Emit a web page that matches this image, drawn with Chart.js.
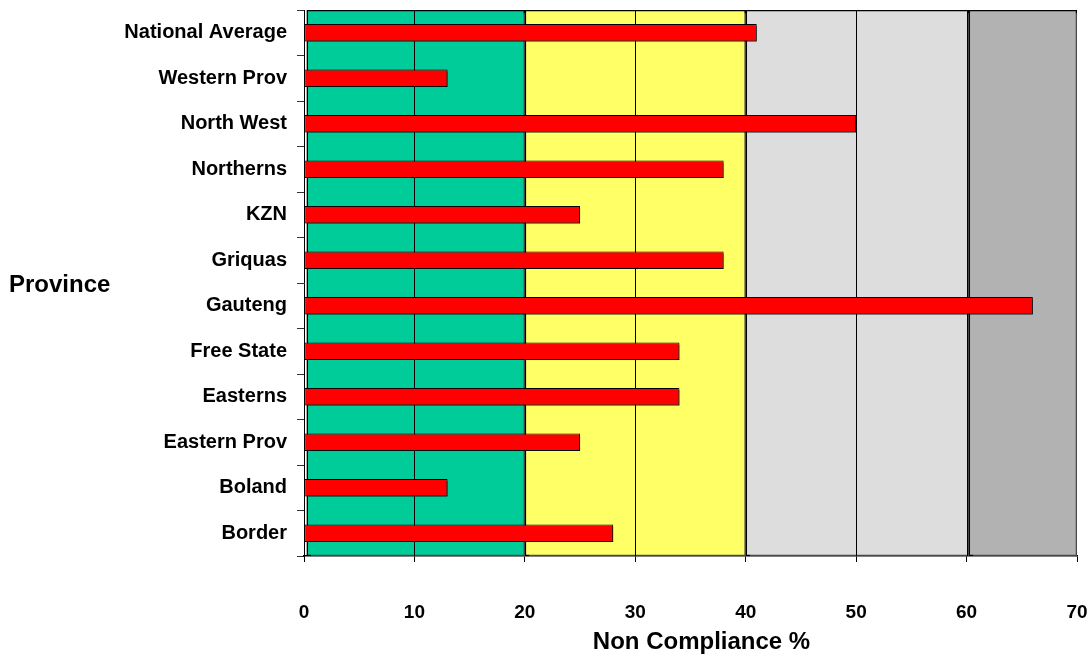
<!DOCTYPE html>
<html>
<head>
<meta charset="utf-8">
<script src="https://cdn.jsdelivr.net/npm/chart.js@4/dist/chart.umd.min.js"></script>
<style>
  html, body { margin: 0; padding: 0; background: #ffffff; }
  #wrap { width: 1090px; height: 656px; position: relative; }
</style>
</head>
<body>
<div id="wrap"><canvas id="c" width="1090" height="656"></canvas></div>
<script>
// Provinces, listed top to bottom
const provinces = [
  'National Average', 'Western Prov', 'North West', 'Northerns', 'KZN',
  'Griquas', 'Gauteng', 'Free State', 'Easterns', 'Eastern Prov', 'Boland', 'Border'
];
// Non compliance per province, %
const nonCompliance = [41, 13, 50, 38, 25, 38, 66, 34, 34, 25, 13, 28];
// Rating bands behind the bars: start/end of each band, %
const bandStarts = [0.25, 20, 40, 60.2];
const bandEnds   = [20, 40, 60.2, 70];
const bandColors = ['#00CC99', '#FFFF66', '#DDDDDD', '#B2B2B2'];
// Axis range and tick step, %
const xMin = 0, xMax = 70, xStep = 10;
// Axis titles
const xTitle = 'Non Compliance %';
const yTitle = 'Province';

const FONT = '"Liberation Sans", Arial, sans-serif';

const bandDatasets = bandStarts.map((s, i) => ({
  label: 'band' + i,
  data: [[s, bandEnds[i]]],
  yAxisID: 'y2',
  backgroundColor: bandColors[i],
  borderColor: '#000000',
  borderWidth: 1.6,
  borderSkipped: false,
  grouped: false,
  barPercentage: 1,
  categoryPercentage: 1,
  order: 10
}));

const redDataset = {
  label: xTitle,
  data: nonCompliance,
  yAxisID: 'y',
  backgroundColor: '#FF0000',
  borderColor: '#000000',
  borderWidth: 1,
  borderSkipped: false,
  grouped: false,
  barPercentage: 0.385,
  categoryPercentage: 1,
  order: 0
};

// Vertical grid lines sit between the bands and the red bars; bars cast a drop shadow
const layeringPlugin = {
  id: 'layering',
  beforeDatasetDraw(chart, args) {
    const ctx = chart.ctx;
    const area = chart.chartArea;
    ctx.save();
    if (args.meta.yAxisID === 'y') {
      const xs = chart.scales.x;
      ctx.save();
      ctx.strokeStyle = '#000000';
      ctx.lineWidth = 1;
      xs.ticks.forEach(t => {
        if (t.value <= xMin || t.value >= xMax) return;
        const px = Math.round(xs.getPixelForValue(t.value)) + 0.5;
        ctx.beginPath();
        ctx.moveTo(px, area.top);
        ctx.lineTo(px, area.bottom);
        ctx.stroke();
      });
      ctx.restore();
      ctx.shadowColor = 'rgba(0,0,0,0.55)';
      ctx.shadowOffsetX = 2;
      ctx.shadowOffsetY = 2;
      ctx.shadowBlur = 0;
    } else {
      ctx.shadowColor = 'rgba(90,90,90,0.8)';
      ctx.shadowOffsetX = 3;
      ctx.shadowOffsetY = 2;
      ctx.shadowBlur = 0;
    }
  },
  afterDatasetDraw(chart) {
    chart.ctx.restore();
  }
};

// Axis titles: "Province" written horizontally on the left, value title under the ticks
const axisTitles = {
  id: 'axisTitles',
  afterDraw(chart) {
    const ctx = chart.ctx;
    const area = chart.chartArea;
    ctx.save();
    ctx.fillStyle = '#000000';
    ctx.font = 'bold 24px ' + FONT;
    ctx.textBaseline = 'middle';
    ctx.textAlign = 'left';
    ctx.fillText(yTitle, 9, (area.top + area.bottom) / 2 + 2);
    ctx.textAlign = 'center';
    ctx.fillText(xTitle, (area.left + area.right) / 2 + 11, 642);
    ctx.restore();
  }
};

new Chart(document.getElementById('c'), {
  type: 'bar',
  data: {
    labels: provinces,
    datasets: [redDataset, ...bandDatasets]
  },
  options: {
    indexAxis: 'y',
    responsive: false,
    animation: false,
    devicePixelRatio: 1,
    layout: { padding: { top: 10, right: 13, left: 0, bottom: 0 } },
    plugins: {
      legend: { display: false },
      tooltip: { enabled: false },
      title: { display: false }
    },
    scales: {
      x: {
        type: 'linear',
        position: 'bottom',
        min: xMin,
        max: xMax,
        ticks: {
          stepSize: xStep,
          color: '#000000',
          padding: 39,
          font: { family: FONT, size: 19, weight: 'bold' }
        },
        grid: {
          drawOnChartArea: false,
          drawTicks: true,
          tickLength: 6,
          color: '#000000'
        },
        border: { display: true, color: '#000000', width: 1.5 },
        title: { display: false },
        afterFit(scale) {
          scale.height = 100;
          scale.paddingLeft = 0;
          scale.paddingRight = 0;
        }
      },
      y: {
        type: 'category',
        position: 'left',
        offset: true,
        ticks: {
          color: '#000000',
          padding: 10,
          font: { family: FONT, size: 20, weight: 'bold' }
        },
        grid: {
          offset: true,
          drawOnChartArea: false,
          drawTicks: true,
          tickLength: 7,
          color: '#333333'
        },
        border: { display: true, color: '#000000', width: 1 },
        afterFit(scale) {
          scale.width = 304;
          scale.paddingTop = 0;
          scale.paddingBottom = 0;
        }
      },
      y2: {
        type: 'category',
        labels: ['bands'],
        display: false,
        offset: true
      }
    }
  },
  plugins: [layeringPlugin, axisTitles]
});
</script>
</body>
</html>
